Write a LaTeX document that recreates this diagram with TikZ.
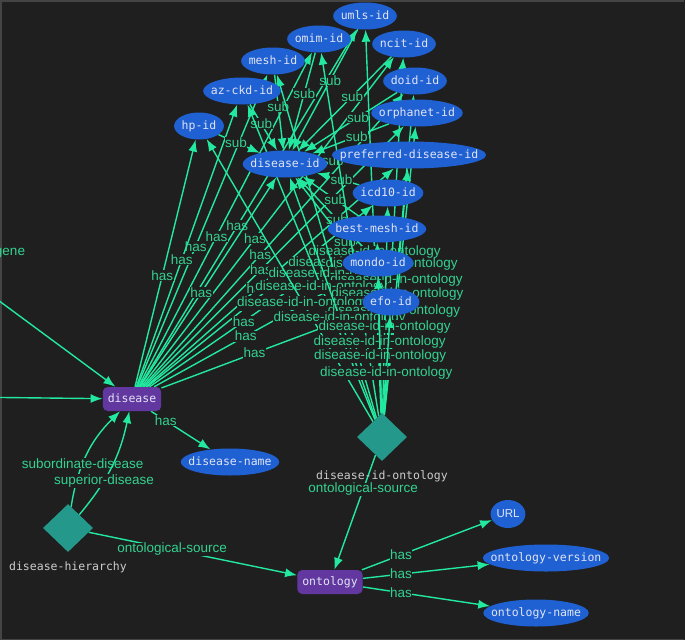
\documentclass[tikz,border=0pt]{standalone}
\usepackage{fontspec}
\setmainfont{Liberation Sans}
\newfontfamily\monofont{DejaVu Sans Mono}
\usepackage{tikz}
\usetikzlibrary{arrows.meta,shapes.geometric,positioning}
\pgfdeclarelayer{bg}
\pgfdeclarelayer{edges}
\pgfsetlayers{bg,edges,main}

\definecolor{canvas}{RGB}{31,31,31}
\definecolor{framegray}{RGB}{68,68,68}
\definecolor{edgegreen}{RGB}{34,232,160}
\definecolor{labelgreen}{RGB}{52,210,145}
\definecolor{idblue}{RGB}{31,97,210}
\definecolor{entpurple}{RGB}{98,56,160}
\definecolor{relteal}{RGB}{36,152,138}
\definecolor{nodetext}{RGB}{225,228,245}
\definecolor{reltext}{RGB}{205,205,205}

\begin{document}
\begin{tikzpicture}[x=1pt,y=-1pt,->,>={Latex[length=12pt,width=9pt]},
  every edge/.style={draw=edgegreen,line width=1.4pt},
  id node/.style={ellipse,fill=idblue,text=nodetext,font=\monofont\fontsize{11.5}{12}\selectfont,
    minimum height=27pt,inner ysep=0pt,inner xsep={(5.3-#1)*1pt},text height=8pt,text depth=2pt},
  ent node/.style={rectangle,rounded corners=5pt,fill=entpurple,text=nodetext,
    font=\monofont\fontsize{11.5}{12}\selectfont,minimum height=24pt,inner xsep=5pt,text height=8pt,text depth=2pt},
  rel node/.style={diamond,fill=relteal,minimum width=50pt,minimum height=48pt,inner sep=0pt},
  rel text/.style={text=reltext,font=\monofont\fontsize{11.5}{12}\selectfont,inner sep=1pt,text height=8pt,text depth=2pt},
  lbl/.style={fill=canvas,text=labelgreen,font=\fontsize{13.5}{14}\selectfont,inner sep=0.5pt}]
  \useasboundingbox (0,0) rectangle (685,640);
  \begin{pgfonlayer}{bg}
    \fill[canvas] (0,0) rectangle (685,640);
    \draw[-,framegray,line width=1.5pt] (684,639.25) -- (0.75,639.25) -- (0.75,0.75) -- (684,0.75);
  \end{pgfonlayer}

  % id attributes
  \node[id node=7]  (umls)  at (365,16)  {umls-id};
  \node[id node=7]  (omim)  at (319,39)  {omim-id};
  \node[id node=7]  (ncit)  at (404,44)  {ncit-id};
  \node[id node=7]  (mesh)  at (273,61)  {mesh-id};
  \node[id node=7]  (doid)  at (415,81)  {doid-id};
  \node[id node=9]  (azckd) at (242,91)  {az-ckd-id};
  \node[id node=11] (orpha) at (417,113) {orphanet-id};
  \node[id node=5]  (hp)    at (199,126) {hp-id};
  \node[id node=20] (pref)  at (409,155) {preferred-disease-id};
  \node[id node=10] (did)   at (285,164) {disease-id};
  \node[id node=8]  (icd)   at (388,193) {icd10-id};
  \node[id node=12] (bmesh) at (377,229) {best-mesh-id};
  \node[id node=8]  (mondo) at (378,263) {mondo-id};
  \node[id node=6]  (efo)   at (391,302) {efo-id};

  % entities and relations
  \node[ent node] (disease) at (132,399) {disease};
  \node[id node=12] (dname) at (230,462) {disease-name};
  \node[rel node] (dio) at (382,437) {};
  \node[rel text,below=9pt of dio] (diotext) {disease-id-ontology};
  \node[rel node] (dh) at (68,528) {};
  \node[rel text,below=9pt of dh] (dhtext) {disease-hierarchy};
  \node[ent node] (onto) at (330,582) {ontology};
  \node[id node=4.5,font=\fontsize{11.5}{12}\selectfont,minimum height=28pt] (url) at (508,514) {URL};
  \node[id node=16] (over)  at (546,558) {ontology-version};
  \node[id node=13] (oname) at (536,613) {ontology-name};

  \coordinate (genesrc) at (-40,272);
  \coordinate (leftsrc) at (-40,397);
  \node[lbl,fill=none] (gene) at (10,253) {gene};

  \begin{pgfonlayer}{edges}
  \path[every node/.style={lbl,pos=.45}]
    (disease) edge node {has} (umls)
    (disease) edge node {has} (omim)
    (disease) edge node {has} (ncit)
    (disease) edge node {has} (mesh)
    (disease) edge node {has} (doid)
    (disease) edge node {has} (azckd)
    (disease) edge node {has} (orpha)
    (disease) edge node {has} (hp)
    (disease) edge node {has} (pref)
    (disease) edge node {has} (did)
    (disease) edge node {has} (icd)
    (disease) edge node {has} (bmesh)
    (disease) edge node {has} (mondo)
    (disease) edge node {has} (efo);

  \path[every node/.style={lbl,pos=.42}]
    (umls)  edge node {sub} (did)
    (omim)  edge node {sub} (did)
    (ncit)  edge node {sub} (did)
    (mesh)  edge node {sub} (did)
    (doid)  edge node {sub} (did)
    (azckd) edge node {sub} (did)
    (orpha) edge node {sub} (did)
    (hp)    edge node {sub} (did)
    (pref)  edge node {sub} (did)
    (icd)   edge node {sub} (did)
    (bmesh) edge node {sub} (did)
    (mondo) edge node {sub} (did)
    (efo)   edge node {sub} (did);

  \path[every node/.style={lbl,pos=.42}]
    (dio) edge node {disease-id-in-ontology} (umls)
    (dio) edge node {disease-id-in-ontology} (omim)
    (dio) edge node {disease-id-in-ontology} (ncit)
    (dio) edge node {disease-id-in-ontology} (mesh)
    (dio) edge node {disease-id-in-ontology} (doid)
    (dio) edge node {disease-id-in-ontology} (azckd)
    (dio) edge node {disease-id-in-ontology} (orpha)
    (dio) edge node {disease-id-in-ontology} (hp)
    (dio) edge node {disease-id-in-ontology} (pref)
    (dio) edge node {disease-id-in-ontology} (did)
    (dio) edge node {disease-id-in-ontology} (icd)
    (dio) edge node {disease-id-in-ontology} (bmesh)
    (dio) edge node {disease-id-in-ontology} (mondo)
    (dio) edge node {disease-id-in-ontology} (efo);

  \path[every node/.style=lbl]
    (disease) edge node[pos=.25] {has} (dname)
    (dh) edge[bend left=18] node[pos=.4] {subordinate-disease} (disease)
    (dh) edge[bend right=14] node[pos=.35] {superior-disease} (disease)
    (dh) edge node[pos=.4] {ontological-source} (onto)
    (dio) edge node[pos=.3] {ontological-source} (onto)
    (onto) edge node[pos=.3] {has} (url)
    (onto) edge node[pos=.3] {has} (over)
    (onto) edge node[pos=.3] {has} (oname)
    (genesrc) edge (disease)
    (leftsrc) edge (disease);
  \end{pgfonlayer}
\end{tikzpicture}
\end{document}
